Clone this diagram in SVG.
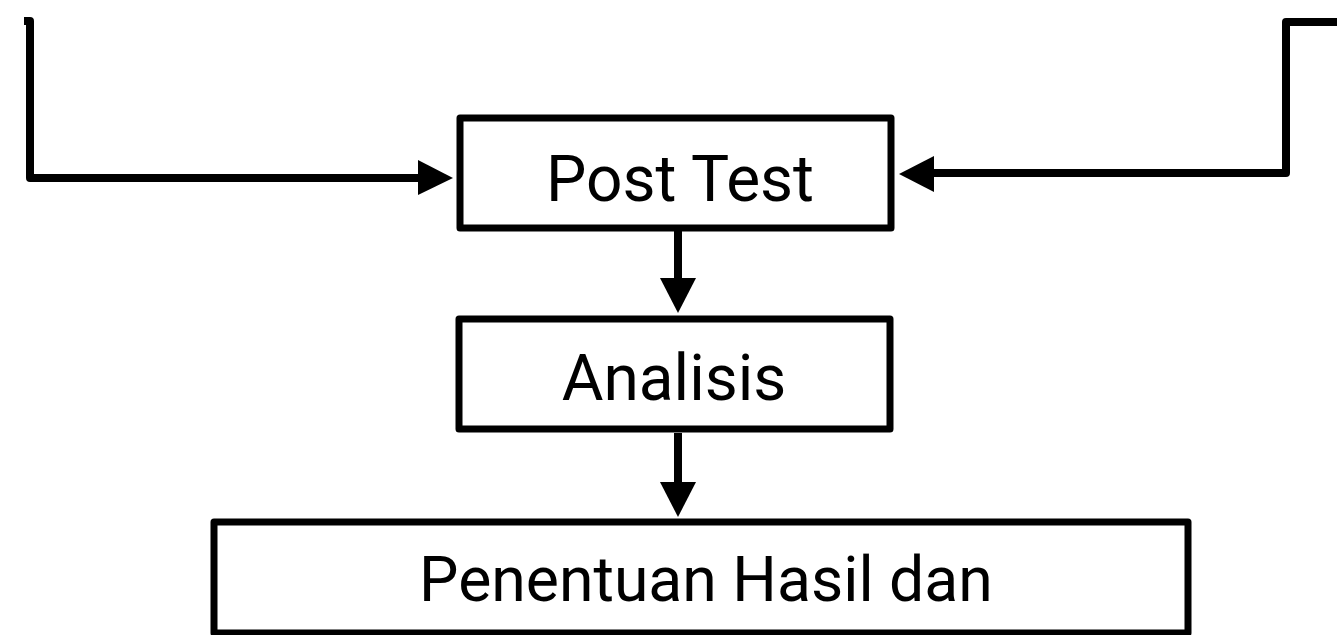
<svg xmlns="http://www.w3.org/2000/svg" width="1337" height="635" viewBox="0 0 1337 635">
<style>
.box{fill:#fff;stroke:#000;stroke-width:7;stroke-linejoin:round}
.lbl{font-family:Roboto,"Liberation Sans",sans-serif;font-size:64px;fill:#000;text-anchor:middle}
.ln{fill:none;stroke:#000;stroke-width:8;stroke-linejoin:round}
.ah{fill:#000}
</style>
<rect width="1337" height="635" fill="#fff"/>
<g id="connectors">
<polyline class="ln" points="24,21 30,21 30,178 420,178"/>
<polygon class="ah" points="418,160 453,178 418,195"/>
<polyline class="ln" points="1337,22 1286,22 1286,173 932,173"/>
<polygon class="ah" points="934,156 899,174 934,192"/>
<line class="ln" x1="678" y1="231" x2="678" y2="280"/>
<polygon class="ah" points="660,278 696,278 678,313"/>
<line class="ln" x1="678" y1="433" x2="678" y2="484"/>
<polygon class="ah" points="660,482 696,482 678,517"/>
</g>
<g id="node-post-test">
<rect class="box" x="460" y="118" width="431" height="110"/>
<text class="lbl" x="680" y="201">Post Test</text>
</g>
<g id="node-analisis">
<rect class="box" x="459" y="319" width="431" height="110"/>
<text class="lbl" x="674" y="400">Analisis</text>
</g>
<g id="node-penentuan">
<rect class="box" x="214" y="522" width="974" height="111"/>
<text class="lbl" x="706" y="601" style="font-size:62.5px">Penentuan Hasil dan</text>
</g>
</svg>
